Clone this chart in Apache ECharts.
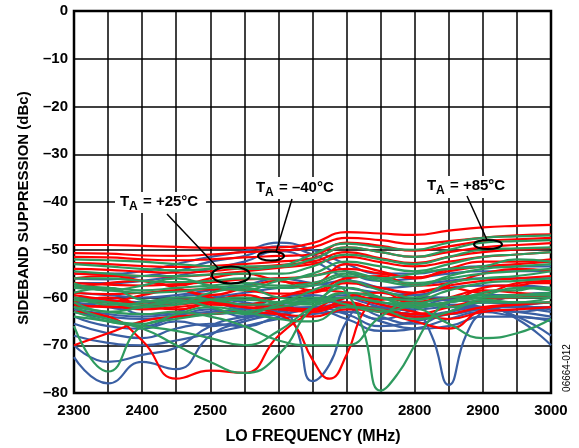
<!DOCTYPE html>
<html>
<head>
<meta charset="utf-8">
<script src="https://cdn.jsdelivr.net/npm/echarts@6/dist/echarts.min.js"></script>
<style>
html,body{margin:0;padding:0;background:#fff;}
#chart{width:579px;height:448px;}
</style>
</head>
<body>
<div id="chart"></div>
<script>
// ---------- data ----------
const FREQ = [2300,2350,2400,2450,2500,2550,2600,2650,2700,2750,2800,2850,2900,2950,3000];
const FREQ_FINE = [2300,2325,2350,2375,2400,2425,2450,2475,2500,2525,2550,2575,2600,2625,2650,2675,2700,2725,2750,2775,2800,2825,2850,2875,2900,2925,2950,2975,3000];
const X_TICK_LABELS = ['2300','2400','2500','2600','2700','2800','2900','3000'];
const Y_TICK_LABELS = ['0','–10','–20','–30','–40','–50','–60','–70','–80'];

// TA = -40°C (blue)
const BLUE_M40 = [
  [-55,-55,-54.5,-53,-51.5,-50.3,-48.5,-50,-53,-55,-55,-54,-53.5,-53.5,-53.5],
  [-56,-56.2,-55.5,-54.5,-52.5,-51.3,-49.3,-51,-54.5,-56.5,-56,-55,-54.5,-54.5,-54.5],
  [-57,-57,-56.5,-55.5,-54,-52.5,-50.3,-52.3,-56,-58,-57.5,-56.5,-56,-56,-56],
  [-59,-59.5,-60,-59.5,-58.5,-57.5,-56,-57,-58,-59,-59.5,-58,-57.5,-57.5,-58],
  [-60,-60.5,-61,-60.5,-60,-59,-58,-57.5,-56.5,-58,-59.5,-60,-59.5,-59.5,-60],
  [-62,-61,-63.5,-63,-61,-62.5,-60,-59.5,-62,-64.5,-62.5,-60.5,-61,-59.5,-59],
  [-63,-64.5,-66,-64,-62.5,-64,-63,-60.5,-61,-64,-65.5,-63,-61,-61.5,-61],
  [-64,-66,-66.5,-65,-66,-64.5,-62.5,-62,-63.5,-66,-65,-63.5,-62.5,-63,-62],
  [-65.5,-67.5,-68.5,-66.5,-65.5,-66,-64,-62.5,-64.5,-67,-66.5,-64.5,-63,-64,-64.5],
  [-72.5,-78,-73.5,-75,-68,-65,-63.5,-62.5,-62,-63,-64,-63,-62,-62,-62],
  [-70,-73.5,-72,-70.5,-66,-64,-63,-62,-61.5,-62.5,-63.5,-63.5,-62.5,-63,-64],
  [-63,-64,-64.5,-64,-63.5,-63,-62,-61,-60,-61.5,-62.5,-62,-62,-64.5,-70],
  [-62.5,-63.5,-64,-63.5,-63,-62.5,-61.5,-60.5,-59.5,-61,-62,-61.5,-62,-64,-68],
  [-68,-69.5,-70,-69,-67.5,-66,-64.5,-63.5,-63,-65,-66.5,-66,-64,-64,-65]
];
const BLUE_M40_FINE = [
  [-60,-60.5,-61,-61.5,-61,-60.5,-60,-59.5,-60,-60.5,-61,-61.5,-62,-66,-77.5,-74,-65,-62,-62,-63,-64,-64,-63,-62,-61,-61,-61.5,-62,-62.5],
  [-61,-61.5,-62,-62.5,-62,-61.5,-61,-60.5,-60.5,-61,-61.5,-61,-60,-59.5,-60,-61,-60,-61,-62,-62.5,-63,-68,-78.3,-68,-63,-62,-62,-62.5,-63]
];

// TA = +25°C (red)
const RED_P25 = [
  [-49,-49,-49.2,-49.4,-49.6,-49.6,-49.5,-48.6,-46.3,-46.6,-46.9,-46.0,-45.3,-45.0,-44.8],
  [-50.7,-50.8,-51.2,-51.3,-51.0,-50.5,-50.2,-49.5,-47.5,-48.0,-48.8,-48.2,-47.5,-47.0,-46.8],
  [-51.5,-51.6,-52.0,-52.2,-52.0,-51.6,-51.3,-51.0,-48.5,-49.2,-50.2,-49.3,-48.2,-47.8,-47.5],
  [-52.8,-53.0,-53.4,-53.6,-53.4,-53.0,-52.5,-51.8,-49.5,-50.5,-51.5,-50.5,-49.5,-49.0,-48.6],
  [-54,-54.2,-54.6,-54.8,-54.5,-53.8,-53.2,-52.5,-50.5,-51.8,-52.8,-51.5,-50.5,-50.0,-49.6],
  [-55,-55.3,-55.5,-55.6,-55.2,-54.5,-53.8,-53.0,-51.5,-52.6,-53.5,-52.5,-51.5,-51.0,-50.5],
  [-56,-55.5,-56.5,-57.5,-56,-55,-56.5,-57,-53,-54.5,-56,-54,-52.5,-52.5,-52],
  [-57,-57.3,-57.5,-57.2,-56.8,-56.2,-56.0,-55.5,-54,-55,-55.8,-54.5,-53.5,-53,-52.5],
  [-58,-57,-56.5,-58,-59.5,-58,-56.5,-58.5,-56,-55.5,-57.5,-57,-55,-54,-54.5],
  [-59,-59.3,-59.0,-58.5,-58.3,-58.5,-59.2,-59,-57,-58,-59,-57.5,-56.5,-56,-55.5],
  [-60,-61,-59.5,-58.5,-60,-61.5,-60,-58.5,-59,-60.5,-59,-58,-59,-57,-56.5],
  [-61,-60,-61.5,-62.5,-61,-59.5,-61.5,-63,-60,-59,-61.5,-61,-58.5,-59,-59.5],
  [-62,-61.8,-62.5,-62,-61.5,-62,-62.5,-63,-61.5,-62.5,-63.5,-62,-60.5,-60,-59.5],
  [-70,-67.5,-65,-64,-63.5,-63,-63.5,-64,-62.5,-63,-64,-63.5,-62,-61.5,-61],
  [-63,-64,-69,-77,-75.3,-75.8,-68,-63,-60,-61.5,-63,-64.5,-63,-62.5,-62],
  [-61.5,-62,-62,-61.5,-61,-61.5,-62,-62.5,-61,-63,-65,-66.5,-62.5,-61.5,-61]
];
const RED_P25_FINE = [
  [-59.5,-60,-60.5,-61,-61.5,-61,-60.5,-60.5,-61,-61.5,-62,-62.5,-63.5,-66,-73,-77,-72,-63,-60,-60.5,-61,-60.5,-60,-59,-58,-57.5,-57.5,-57,-57]
];

// TA = +85°C (green)
const GREEN_P85 = [
  [-52,-52.2,-52.5,-53,-53.5,-54,-53.5,-51,-48.7,-49.5,-50,-48.5,-47.5,-47.2,-47],
  [-53,-53.5,-54,-54.3,-54,-53.5,-53.5,-52,-49.5,-50.5,-51.5,-50,-48.5,-48.2,-48],
  [-54.5,-55,-55.5,-55.5,-55.2,-55,-55,-53.5,-51,-52,-53,-51.5,-50,-49.7,-49.5],
  [-56,-56,-56.5,-56.8,-56.5,-56,-56.2,-55,-52.5,-53.5,-54.5,-53,-51.5,-51,-50.5],
  [-57,-58.5,-57.5,-56,-57.5,-58.5,-56.5,-55.5,-54.5,-56,-55,-54,-53.5,-52,-52.5],
  [-57.5,-58,-58.5,-58,-57.5,-57,-57.5,-57,-55,-56,-57,-56,-55,-54.5,-54],
  [-58,-58.5,-59,-58.8,-58,-57.5,-58,-57.5,-55.5,-56.5,-57.5,-55.5,-54,-53.5,-53],
  [-59,-58,-60.5,-61,-59,-58,-60,-60.5,-56.5,-58.5,-60,-57,-56,-55.5,-54.5],
  [-60,-61,-62,-61.5,-60.5,-60,-61,-61,-59,-60,-60.5,-58.5,-57,-56.5,-56],
  [-61,-63,-62,-60.5,-62,-63.5,-61.5,-60,-61.5,-63,-61.5,-60,-59.5,-58,-58.5],
  [-62,-64.5,-65.5,-63.5,-62,-63,-64.5,-65,-62,-62.5,-64.5,-63,-60.5,-61,-60],
  [-66,-75.5,-66,-64.5,-63.5,-63,-62,-61,-60,-61,-62,-61,-60,-60,-60],
  [-64,-65,-66.5,-70,-73.5,-75.8,-72,-62,-58,-60,-62,-61,-60,-59.5,-59],
  [-63,-65,-66,-67,-68.5,-70,-67,-62,-59,-60,-61.5,-61,-60,-59.5,-59.5],
  [-62,-63,-63.5,-63,-64,-66,-69,-70,-70,-64,-61,-62,-61,-61,-61],
  [-60.5,-61,-61.5,-61,-60.5,-60.5,-61,-61.5,-60,-61,-62,-65.5,-68.5,-67.5,-64.5]
];
const GREEN_P85_FINE = [
  [-60.5,-61,-61.5,-61.5,-61,-60.5,-60,-60,-60.5,-61,-61.5,-61.5,-61,-60,-58.5,-57.5,-59,-67,-79.5,-76,-70,-64,-61,-60,-59,-58.5,-58.5,-58,-58]
];

// ---------- styling ----------
const COLORS = { blue: '#3A5FA3', red: '#FF0000', green: '#2E9A5E' };
const FONT = '"Liberation Sans", Arial, sans-serif';

function mk(freqs, vals, color) {
  return {
    type: 'line',
    data: freqs.map((f, i) => [f, vals[i]]),
    smooth: 0.5,
    showSymbol: false,
    symbol: 'none',
    silent: true,
    lineStyle: { color: color, width: 2.2 },
    animation: false
  };
}

const series = [];
BLUE_M40.forEach(v => series.push(mk(FREQ, v, COLORS.blue)));
BLUE_M40_FINE.forEach(v => series.push(mk(FREQ_FINE, v, COLORS.blue)));
RED_P25.forEach(v => series.push(mk(FREQ, v, COLORS.red)));
RED_P25_FINE.forEach(v => series.push(mk(FREQ_FINE, v, COLORS.red)));
GREEN_P85.forEach(v => series.push(mk(FREQ, v, COLORS.green)));
GREEN_P85_FINE.forEach(v => series.push(mk(FREQ_FINE, v, COLORS.green)));

function label(x, y, rest) {
  return [
    { type: 'text', x: x, y: y, style: { text: 'T', font: 'bold 15px ' + FONT, fill: '#000', textVerticalAlign: 'middle' }, z: 100 },
    { type: 'text', x: x + 9, y: y + 5, style: { text: 'A', font: 'bold 12px ' + FONT, fill: '#000', textVerticalAlign: 'middle' }, z: 100 },
    { type: 'text', x: x + 23, y: y, style: { text: rest, font: 'bold 15px ' + FONT, fill: '#000', textVerticalAlign: 'middle' }, z: 100 }
  ];
}

const graphic = [
  { type: 'rect', shape: { x: 115, y: 192, width: 91, height: 21 }, style: { fill: '#fff' }, z: 90 },
  { type: 'rect', shape: { x: 252, y: 177, width: 89, height: 22 }, style: { fill: '#fff' }, z: 90 },
  { type: 'rect', shape: { x: 423, y: 176, width: 90, height: 22 }, style: { fill: '#fff' }, z: 90 },
  ...label(120, 202, '= +25°C'),
  ...label(256, 188, '= –40°C'),
  ...label(427, 186, '= +85°C'),
  { type: 'line', shape: { x1: 167, y1: 214, x2: 218, y2: 268 }, style: { stroke: '#000', lineWidth: 1.5 }, z: 100 },
  { type: 'line', shape: { x1: 292, y1: 199, x2: 276, y2: 252 }, style: { stroke: '#000', lineWidth: 1.5 }, z: 100 },
  { type: 'line', shape: { x1: 467, y1: 196, x2: 487, y2: 240 }, style: { stroke: '#000', lineWidth: 1.5 }, z: 100 },
  { type: 'ellipse', shape: { cx: 231, cy: 275, rx: 19, ry: 8.5 }, style: { stroke: '#000', fill: null, lineWidth: 2 }, z: 100 },
  { type: 'ellipse', shape: { cx: 271, cy: 256, rx: 13, ry: 4.5 }, style: { stroke: '#000', fill: null, lineWidth: 2 }, z: 100 },
  { type: 'ellipse', shape: { cx: 488, cy: 244.5, rx: 14, ry: 4.5 }, style: { stroke: '#000', fill: null, lineWidth: 2 }, z: 100 },
  { type: 'text', x: 24, y: 208, rotation: Math.PI / 2, style: { text: 'SIDEBAND SUPPRESSION (dBc)', font: 'bold 15px ' + FONT, fill: '#000', textAlign: 'center', textVerticalAlign: 'middle' }, z: 100 },
  { type: 'text', x: 313, y: 437, style: { text: 'LO FREQUENCY (MHz)', font: 'bold 16px ' + FONT, fill: '#000', textAlign: 'center', textVerticalAlign: 'middle' }, z: 100 },
  { type: 'text', x: 567, y: 368, rotation: Math.PI / 2, style: { text: '06664-012', font: '10px ' + FONT, fill: '#000', textAlign: 'center', textVerticalAlign: 'middle' }, z: 100 }
];

const chart = echarts.init(document.getElementById('chart'), null, { renderer: 'canvas' });
chart.setOption({
  animation: false,
  backgroundColor: '#fff',
  grid: { left: 74, top: 11, right: 28, bottom: 55, show: true, borderColor: '#000', borderWidth: 2.5, backgroundColor: 'transparent' },
  xAxis: {
    type: 'value', min: 2300, max: 3000, interval: 50,
    axisLine: { show: false }, axisTick: { show: false },
    splitLine: { show: true, lineStyle: { color: '#000', width: 1.5 } },
    axisLabel: {
      margin: 10, color: '#000', fontWeight: 'bold', fontSize: 15, fontFamily: FONT,
      formatter: v => { const i = X_TICK_LABELS.indexOf(String(v)); return i >= 0 ? X_TICK_LABELS[i] : ''; }
    }
  },
  yAxis: {
    type: 'value', min: -80, max: 0, interval: 10,
    axisLine: { show: false }, axisTick: { show: false },
    splitLine: { show: true, lineStyle: { color: '#000', width: 1.5 } },
    axisLabel: {
      margin: 6, color: '#000', fontWeight: 'bold', fontSize: 15, fontFamily: FONT,
      formatter: v => Y_TICK_LABELS[Math.round(-v / 10)]
    }
  },
  series: series,
  graphic: graphic
});
</script>
</body>
</html>
